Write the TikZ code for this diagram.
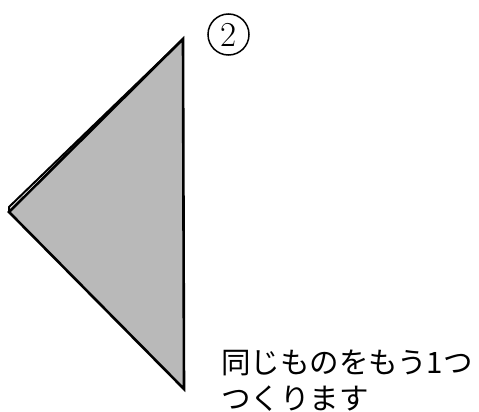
\documentclass[tikz,border=0pt]{standalone}
\usepackage{fontspec}
\newfontfamily\jpfont{Noto Sans CJK JP}
\definecolor{paper}{RGB}{185,185,185}
\begin{document}
\begin{tikzpicture}[x=1pt,y=-1pt,
  edge/.style={line width=2.6pt,line join=miter,line cap=round},
  lbl/.style={font=\jpfont\fontsize{29.5}{34}\selectfont,anchor=base west,inner sep=0pt}]
\useasboundingbox (0,0) rectangle (479,412);
\coordinate (T) at (183,39);
\coordinate (L) at (9,212);
\coordinate (B) at (184,389);
\coordinate (L2) at (9,207);
\fill[paper] (T) -- (L) -- (B) -- cycle;
\draw[edge] (T) -- (L) -- (B) -- cycle;
\draw[line width=2pt,line cap=round] (T) -- (L2) -- (L);
\node[draw,circle,line width=1.5pt,minimum size=41pt,inner sep=0pt,font=\fontsize{35}{35}\selectfont] (num) at (228.5,34.5) {2};
\node[lbl] (t1) at (221,373) {同じものをもう1つ};
\node[lbl] (t2) at (221,409) {つくります};
\end{tikzpicture}
\end{document}
